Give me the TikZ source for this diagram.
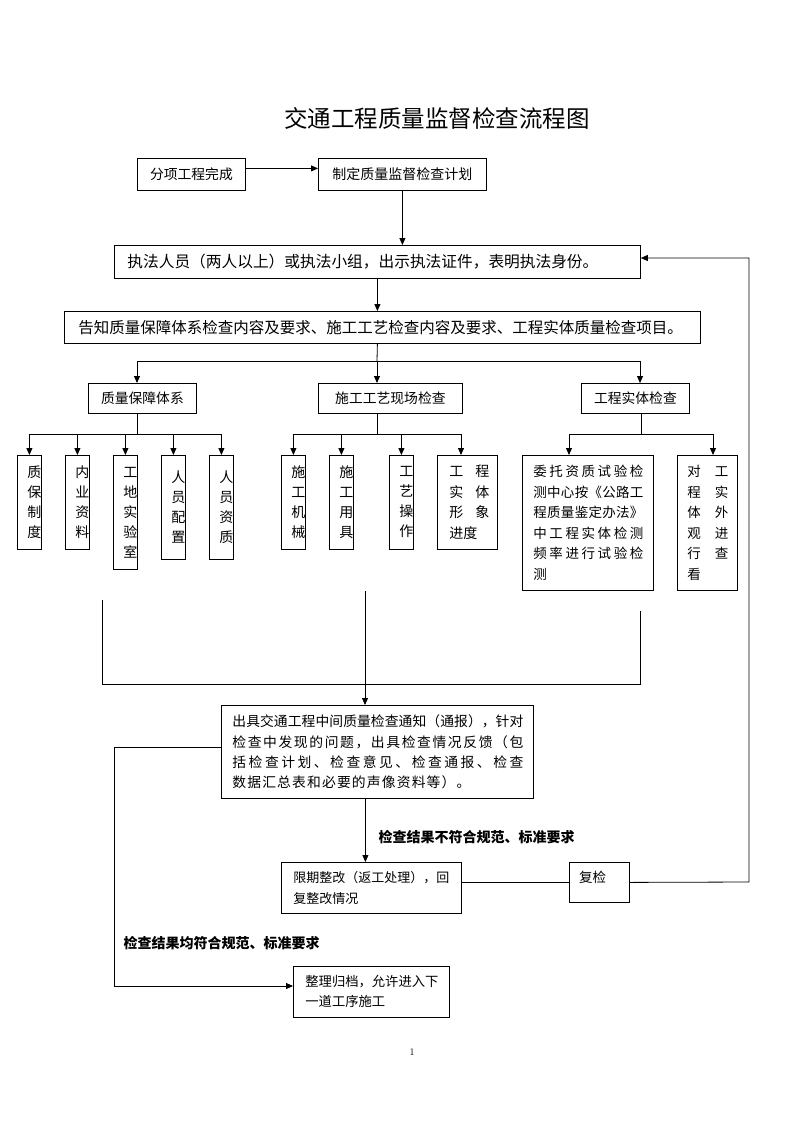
\documentclass[tikz,border=0pt]{standalone}
\usepackage{fontspec}
\newfontfamily\cjk{Noto Sans CJK SC}
\usetikzlibrary{arrows.meta}
\def\jfirst#1{#1\jrest}
\def\jrest#1{\ifx#1\relax\else\hfil#1\expandafter\jrest\fi}
\newcommand\jline[2]{\makebox[#1][s]{\jfirst#2\relax}}
\newcommand\tb[4]{\makebox[#3][l]{\hspace*{#1}\parbox{#2}{#4}}}
\newcommand\fs[2]{\fontsize{#1}{#2}\selectfont}
\begin{document}
\begin{tikzpicture}[x=1pt,y=-1pt,
  every node/.style={font=\cjk},
  box/.style={draw, line width=0.8pt, inner sep=0pt, anchor=north west},
  ln/.style={line width=0.8pt},
  arr/.style={ln, -{Triangle[length=7pt,width=6pt]}}]
\useasboundingbox (0,0) rectangle (793,1122);
\node[font=\cjk\fs{23.5}{28}] (title) at (437,118) {交通工程质量监督检查流程图};
% top
\node[box, minimum width=108pt, minimum height=32pt, font=\cjk\fs{13.8}{16}] (b1) at (137,158) {分项工程完成};
\node[box, minimum width=168pt, minimum height=32pt, font=\cjk\fs{14}{16}] (b2) at (318,158) {制定质量监督检查计划};
\node[box, minimum height=33pt, text width=500pt, inner xsep=13pt, align=left, font=\cjk\fs{15.7}{18}] (b3) at (114,245) {执法人员（两人以上）或执法小组，出示执法证件，表明执法身份。};
\node[box, minimum height=32pt, text width=608pt, inner xsep=14pt, align=left, font=\cjk\fs{15.5}{18}] (b4) at (64,311) {告知质量保障体系检查内容及要求、施工工艺检查内容及要求、工程实体质量检查项目。};
\draw[arr] ([yshift=6pt]b1.east) -- ([yshift=6pt]b2.west);
\draw[arr] (b2.south) -- (b2.south |- b3.north);
\draw[arr] (b3.south) -- (b3.south |- b4.north);
% first branching
\coordinate (j1) at (377,361);
\coordinate (h1a) at (137,361);
\coordinate (h1b) at (640,361);
\node[box, minimum width=108pt, minimum height=30pt, font=\cjk\fs{13.8}{16}] (q1) at (88,383) {质量保障体系};
\node[box, minimum width=144pt, minimum height=30pt, font=\cjk\fs{13.8}{16}] (q2) at (318,383) {施工工艺现场检查};
\node[box, minimum width=108pt, minimum height=30pt, font=\cjk\fs{13.8}{16}] (q3) at (581,383) {工程实体检查};
\draw[ln] (b3.south |- b4.south) -- (j1);
\draw[ln] (h1a) -- (h1b);
\draw[arr] (h1a) -- (h1a |- q1.north);
\draw[arr] (j1) -- (j1 |- q2.north);
\draw[arr] (h1b) -- (h1b |- q3.north);
% second level boxes
\tikzset{vb/.style={box, minimum width=24pt, font=\cjk\fs{14}{20}}}
\node[vb, minimum height=94pt] (v1) at (17,455) {\tb{10pt}{14pt}{24pt}{\centering 质\\保\\制\\度}};
\node[vb, minimum height=94pt] (v2) at (65,455) {\tb{10pt}{14pt}{24pt}{\centering 内\\业\\资\\料}};
\node[vb, minimum height=114pt] (v3) at (113,455) {\tb{10pt}{14pt}{24pt}{\centering 工\\地\\实\\验\\室}};
\node[vb, minimum height=104pt] (v4) at (161,455) {\tb{10pt}{14pt}{24pt}{\centering 人\\员\\配\\置}};
\node[vb, minimum height=104pt] (v5) at (209,455) {\tb{10pt}{14pt}{24pt}{\centering 人\\员\\资\\质}};
\node[vb, minimum height=94pt] (w1) at (281,455) {\tb{10pt}{14pt}{24pt}{\centering 施\\工\\机\\械}};
\node[vb, minimum height=94pt] (w2) at (329,455) {\tb{10pt}{14pt}{24pt}{\centering 施\\工\\用\\具}};
\node[vb, minimum height=94pt] (w3) at (389,455) {\tb{10pt}{14pt}{24pt}{\centering 工\\艺\\操\\作}};
\node[box, minimum width=60pt, minimum height=94pt, font=\cjk\fs{14}{20.5}] (w4) at (437,455) {\tb{12pt}{40pt}{60pt}{\jline{40pt}{工程}\\\jline{40pt}{实体}\\\jline{40pt}{形象}\\进度}};
\node[box, minimum width=131pt, minimum height=135pt, font=\cjk\fs{13.5}{20.6}] (x1) at (522,455) {\tb{11pt}{110pt}{131pt}{\jline{110pt}{委托资质试验检}\\\jline{110pt}{测中心按《公路工}\\\jline{110pt}{程质量鉴定办法》}\\\jline{110pt}{中工程实体检测}\\\jline{110pt}{频率进行试验检}\\测}};
\node[box, minimum width=60pt, minimum height=135pt, font=\cjk\fs{13.5}{20.6}] (x2) at (677,455) {\tb{10pt}{41pt}{60pt}{\jline{41pt}{对工}\\\jline{41pt}{程实}\\\jline{41pt}{体外}\\\jline{41pt}{观进}\\\jline{41pt}{行查}\\看}};
% second branching
\coordinate (s1) at (137,434);
\coordinate (s2) at (377,434);
\coordinate (s3) at (641,434);
\coordinate (a4) at (461,434);
\coordinate (a5) at (569,434);
\coordinate (a6) at (713,434);
\draw[ln] (s1 |- q1.south) -- (s1);
\draw[ln] (v1.north |- s1) -- (v5.north |- s1);
\foreach \v in {v1,v2,v3,v4,v5} \draw[arr] (\v.north |- s1) -- (\v.north);
\draw[ln] (s2 |- q2.south) -- (s2);
\draw[ln] (w1.north |- s2) -- (a4);
\foreach \v in {w1,w2,w3} \draw[arr] (\v.north |- s2) -- (\v.north);
\draw[arr] (a4) -- (a4 |- w4.north);
\draw[ln] (s3 |- q3.south) -- (s3);
\draw[ln] (a5) -- (a6);
\draw[arr] (a5) -- (a5 |- x1.north);
\draw[arr] (a6) -- (a6 |- x2.north);
% merge lines
\coordinate (m1) at (102,600);
\coordinate (m2) at (102,684);
\coordinate (m3) at (640,684);
\coordinate (m4) at (640,611);
\coordinate (m0) at (365,591);
\draw[ln] (m1) -- (m2) -- (m3) -- (m4);
\node[box, minimum width=312pt, minimum height=93pt, font=\cjk\fs{13.8}{20.3}] (c1) at (221,705) {\tb{11pt}{291pt}{312pt}{\jline{291pt}{出具交通工程中间质量检查通知（通报），针对}\\\jline{291pt}{检查中发现的问题，出具检查情况反馈（包}\\\jline{291pt}{括检查计划、检查意见、检查通报、检查}\\\jline{238pt}{数据汇总表和必要的声像资料等）。}}};
\draw[arr] (m0) -- (m0 |- c1.north);
\node[anchor=west, font=\cjk\bfseries\fs{14}{16}] (lab1) at (375,837) {检查结果不符合规范、标准要求};
\node[box, minimum width=180pt, minimum height=51pt, font=\cjk\fs{13}{21}] (c2) at (281,862) {\tb{12pt}{156pt}{180pt}{\jline{156pt}{限期整改（返工处理），回}\\复整改情况}};
\draw[arr] ([xshift=-12pt]c1.south) -- ([xshift=-12pt]c1.south |- c2.north);
\node[box, minimum width=60pt, minimum height=40pt, label={[anchor=west, xshift=10pt, yshift=-15pt, inner sep=0pt, font=\cjk\fs{13.5}{16}]north west:复检}] (c3) at (569,862) {};
\draw[ln] (c2.east |- c3.west) -- (c3.west);
\coordinate (r1) at (749,882);
\coordinate (r2) at (749,258);
\draw[arr] (c3.east) -- (r1) -- (r2) -- (r2 -| b3.east);
% left loop
\node[box, minimum width=156pt, minimum height=51pt, font=\cjk\fs{13.3}{20}] (c4) at (293,966) {\tb{12pt}{133pt}{156pt}{\jline{133pt}{整理归档，允许进入下}\\一道工序施工}};
\coordinate (l1) at (114,747);
\coordinate (l2) at (114,986);
\draw[arr] (c1.west |- l1) -- (l1) -- (l2) -- (l2 -| c4.west);
\node[anchor=west, font=\cjk\bfseries\fs{14}{16}] (lab2) at (120,943) {检查结果均符合规范、标准要求};
\node[font=\fs{10}{12}] (pg) at (412,1052) {1};
\end{tikzpicture}
\end{document}
